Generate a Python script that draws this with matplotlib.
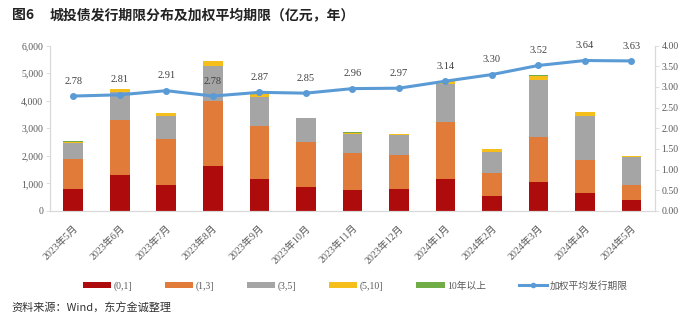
import matplotlib
matplotlib.use("Agg")
import matplotlib.pyplot as plt
from matplotlib.ticker import FuncFormatter, MultipleLocator
from matplotlib.lines import Line2D
from matplotlib.patches import Patch

months = ["2023年5月", "2023年6月", "2023年7月", "2023年8月", "2023年9月",
          "2023年10月", "2023年11月", "2023年12月", "2024年1月", "2024年2月",
          "2024年3月", "2024年4月", "2024年5月"]
term_0_1 = [780, 1290, 930, 1630, 1150, 860, 760, 780, 1150, 540, 1040, 650, 390]
term_1_3 = [1110, 2020, 1670, 2360, 1920, 1640, 1340, 1240, 2070, 830, 1650, 1200, 560]
term_3_5 = [570, 990, 840, 1280, 1070, 860, 680, 720, 1400, 770, 2070, 1610, 1010]
term_5_10 = [60, 130, 130, 170, 100, 25, 60, 50, 110, 95, 150, 140, 50]
term_10_plus = [35, 0, 0, 0, 0, 0, 35, 0, 0, 0, 35, 0, 0]
avg_term = [2.78, 2.81, 2.91, 2.78, 2.87, 2.85, 2.96, 2.97, 3.14, 3.30, 3.52, 3.64, 3.63]

series = [
    ("(0,1]", term_0_1, "#AE0B0C"),
    ("(1,3]", term_1_3, "#E07B39"),
    ("(3,5]", term_3_5, "#A5A5A5"),
    ("(5,10]", term_5_10, "#F5BE1A"),
    ("10年以上", term_10_plus, "#70AD47"),
]
line_color = "#5B9BD5"
text_color = "#595959"

serif = ["Liberation Serif", "Noto Sans CJK SC", "DejaVu Sans"]
plt.rcParams["font.family"] = serif

fig = plt.figure(figsize=(6.99, 3.26), dpi=100)
ax = fig.add_axes([0.0715, 0.353, 0.865, 0.507])

x = list(range(len(months)))
bottom = [0] * len(months)
for name, vals, color in series:
    ax.bar(x, vals, width=0.42, bottom=bottom, color=color, zorder=2)
    bottom = [b + v for b, v in zip(bottom, vals)]

ax.set_xlim(-0.5, len(months) - 0.5)
ax.set_ylim(0, 6000)
ax.yaxis.set_major_locator(MultipleLocator(1000))
ax.yaxis.set_major_formatter(FuncFormatter(lambda v, p: f"{int(v):,}"))
ax.set_xticks(x)
ax.set_xticklabels(months, rotation=45, ha="right", rotation_mode="anchor")

ax2 = ax.twinx()
ax2.set_ylim(0, 4)
ax2.yaxis.set_major_locator(MultipleLocator(0.5))
ax2.yaxis.set_major_formatter(FuncFormatter(lambda v, p: f"{v:.2f}"))
ax2.plot(x, avg_term, color=line_color, lw=2.2, marker="o", ms=4, zorder=3)
for xi, v in zip(x, avg_term):
    ax2.annotate(f"{v:.2f}", (xi, v), xytext=(0, 7.5), textcoords="offset points",
                 ha="center", va="bottom", fontsize=7.5, color="#404040",
                 family=serif)

for a in (ax, ax2):
    a.spines["top"].set_visible(False)
    for side in ("left", "right", "bottom"):
        a.spines[side].set_color("#D9D9D9")
        a.spines[side].set_linewidth(0.8)
    a.tick_params(axis="both", colors=text_color, labelsize=7, length=3,
                  width=0.6, pad=2)
    a.tick_params(axis="both", color="#D9D9D9")
ax.tick_params(axis="x", length=0, pad=9)
for lbl in ax.get_xticklabels():
    lbl.set_fontsize(7.2)

handles = [Patch(facecolor=c, edgecolor="none") for _, _, c in series]
handles.append(Line2D([0], [0], color=line_color, lw=2.2, marker="o", ms=3))
labels = [n for n, _, _ in series] + ["加权平均发行期限"]
fig.legend(handles, labels, loc="center", bbox_to_anchor=(0.508, 0.123),
           ncol=6, frameon=False, fontsize=7, labelcolor=text_color,
           handlelength=2.9, handleheight=0.55, handletextpad=0.25,
           columnspacing=3.4)

fig.text(0.017, 0.953, "图6", fontsize=10, fontweight="bold", color="#222222",
         family=["Noto Sans CJK SC", "DejaVu Sans"], va="center")
fig.text(0.0715, 0.953, "城投债发行期限分布及加权平均期限（亿元，年）",
         fontsize=10, fontweight="bold", color="#222222",
         family=["Noto Sans CJK SC", "DejaVu Sans"], va="center")
fig.text(0.017, 0.055, "资料来源：Wind，东方金诚整理", fontsize=8,
         color="#333333", family=["Noto Sans CJK SC", "DejaVu Sans"],
         va="center")

fig.savefig("out.png", dpi=100)
